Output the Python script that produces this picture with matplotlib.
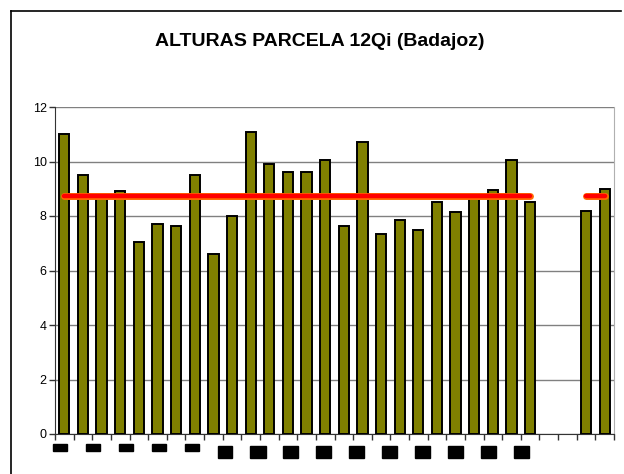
import numpy as np
import matplotlib
matplotlib.use("Agg")
import matplotlib.pyplot as plt
from matplotlib.lines import Line2D

plt.rcParams['font.family'] = ['Liberation Sans', 'DejaVu Sans']

# alturas por arbol (m); dos posiciones vacias
alturas = [11.0, 9.5, 8.65, 8.9, 7.05, 7.7, 7.65, 9.5, 6.6, 8.0,
           11.1, 9.9, 9.6, 9.6, 10.05, 7.65, 10.7, 7.35, 7.85, 7.5,
           8.5, 8.15, 8.65, 8.95, 10.05, 8.5, np.nan, np.nan, 8.2, 9.0]
media = [8.75] * 26 + [np.nan, np.nan] + [8.75, 8.75]
etiquetas = ['0101', '0103', '0105', '0107', '0109', '11', '13', '15',
             '17', '19', '21', '23', '25', '27', '29']

n = len(alturas)
x = np.arange(n)

fig = plt.figure(figsize=(6.24, 4.74), dpi=100)
# marco del grafico (solo izquierda y arriba visibles)
fig.lines.append(Line2D([10.5 / 624, 10.5 / 624], [0, 1 - 11 / 474],
                        transform=fig.transFigure, color='black', linewidth=1.2))
fig.lines.append(Line2D([10.5 / 624, 0.995], [1 - 11 / 474, 1 - 11 / 474],
                        transform=fig.transFigure, color='black', linewidth=1.2))

ax = fig.add_axes([55 / 624, 40 / 474, 559 / 624, 327 / 474])

ax.bar(x, alturas, width=0.55, color='#808000',
       edgecolor='black', linewidth=1.4, zorder=3)
ax.plot(x, media, color='#ff6a00', linewidth=5, solid_capstyle='round', zorder=4)
ax.plot(x, media, color='#ff0000', linewidth=3.2, solid_capstyle='round', zorder=5)

ax.set_xlim(-0.5, n - 0.5)
ax.set_ylim(0, 12)
ax.set_yticks(range(0, 13, 2))
ax.yaxis.grid(True, color='#808080', linewidth=1)
ax.set_axisbelow(True)

ax.set_xticks(np.arange(-0.5, n, 1))
ax.set_xticklabels([])
ax.tick_params(axis='x', direction='out', length=4, width=1, color='#333333')
ax.tick_params(axis='y', direction='out', length=4, width=1, color='#333333',
               labelsize=9, pad=2)

ax.spines['top'].set_visible(False)
ax.spines['right'].set_color('#b0b0b0')
ax.spines['left'].set_color('#333333')
ax.spines['bottom'].set_color('#333333')

# etiquetas ilegibles (cajas negras)
lab_x = np.arange(len(etiquetas)) * 1.77 - 0.23
for i, (lx, t) in enumerate(zip(lab_x, etiquetas)):
    small = i < 5
    ax.text(lx, -0.5 if small else -0.66, t, ha='center', va='center',
            fontsize=4.2 if small else 8, color='black',
            bbox=dict(boxstyle='square,pad=0.12', facecolor='black',
                      edgecolor='black'),
            clip_on=False)

fig.text(0.513, 1 - 41 / 474, 'ALTURAS PARCELA 12Qi (Badajoz)',
         ha='center', va='center', fontsize=14, fontweight='bold')

fig.savefig('out.png', dpi=100)
